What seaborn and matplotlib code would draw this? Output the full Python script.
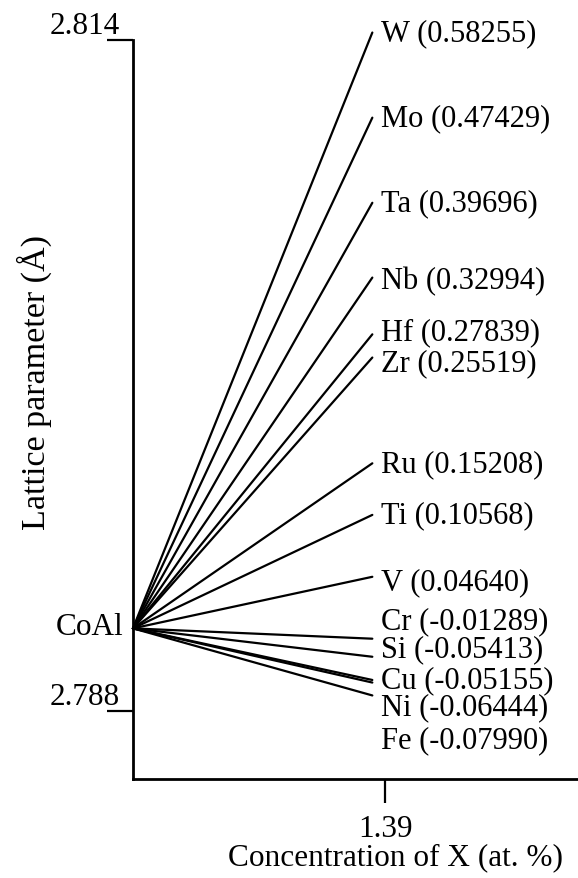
"""Lattice parameter of CoAl vs. concentration of ternary addition X."""

import matplotlib.pyplot as plt
import numpy as np
import pandas as pd
import seaborn as sns

# values
elements = ["W", "Mo", "Ta", "Nb", "Hf", "Zr", "Ru", "Ti", "V",
            "Cr", "Si", "Cu", "Ni", "Fe"]
coefficients = ["0.58255", "0.47429", "0.39696", "0.32994", "0.27839", "0.25519",
                "0.15208", "0.10568", "0.04640", "-0.01289", "-0.05413",
                "-0.05155", "-0.06444", "-0.07990"]
# lattice parameter at the end of each line (Å)
end_lattice = [2.8143, 2.8110, 2.8077, 2.8048, 2.8026, 2.8017,
               2.7976, 2.7956, 2.7932, 2.7908, 2.7901,
               2.7892, 2.7891, 2.7886]
# where each label sits (Å)
label_lattice = [2.8143, 2.8110, 2.8077, 2.8047, 2.8027, 2.8015,
                 2.7976, 2.7956, 2.7930, 2.7915, 2.7904,
                 2.7892, 2.78815, 2.7869]
coal_lattice = 2.7912
x_end = 1.32
x_tick = 1.39
y_ticks = [2.788, 2.814]

rows = []
for el, y1 in zip(elements, end_lattice):
    rows.append({"element": el, "conc": 0.0, "a": coal_lattice})
    rows.append({"element": el, "conc": x_end, "a": y1})
df = pd.DataFrame(rows)

sns.set_style("ticks")
plt.rcParams["font.family"] = ["Liberation Serif", "DejaVu Serif"]
plt.rcParams["font.size"] = 22
plt.rcParams["text.color"] = "black"
plt.rcParams["axes.labelcolor"] = "black"
plt.rcParams["xtick.color"] = "black"
plt.rcParams["ytick.color"] = "black"

fig = plt.figure(figsize=(5.78, 8.79), dpi=100)
ax = fig.add_axes([0.230, 0.1126, 0.770, 0.8874])

sns.lineplot(data=df, x="conc", y="a", units="element", estimator=None,
             color="black", lw=1.6, ax=ax, clip_on=False)

for el, coef, ly in zip(elements, coefficients, label_lattice):
    ax.text(1.37, ly, f"{el} ({coef})", ha="left", va="center", fontsize=22)

ax.annotate("CoAl", xy=(0, coal_lattice), xytext=(-7, 1), textcoords="offset points",
            ha="right", va="center", fontsize=22.5)

ax.set_xlim(0, 2.454)
ax.set_ylim(2.78536, 2.8156)
ax.spines["top"].set_visible(False)
ax.spines["right"].set_visible(False)
ax.spines["left"].set_bounds(2.78536, 2.814)
for s in ("left", "bottom"):
    ax.spines[s].set_linewidth(2.0)
    ax.spines[s].set_color("black")

ax.set_xticks([x_tick])
ax.set_xticklabels(["1.39"])
ax.set_yticks(y_ticks)
ax.set_yticklabels([f"{v:.3f}" for v in y_ticks])
for lab in ax.get_yticklabels():
    lab.set_va("bottom")
ax.tick_params(axis="y", direction="out", length=18.5, width=1.6, pad=-9, labelsize=22.5)
ax.tick_params(axis="x", direction="out", length=17, width=1.6, pad=8, labelsize=22.5)

ax.set_xlabel("Concentration of X (at. %)", fontsize=22.5)
ax.set_ylabel("Lattice parameter (Å)", fontsize=24.5)
ax.xaxis.set_label_coords((396 - 133) / 445, -0.081)
ax.yaxis.set_label_coords(-0.182, 0.51)

fig.savefig("out.png", dpi=100)
plt.close(fig)
